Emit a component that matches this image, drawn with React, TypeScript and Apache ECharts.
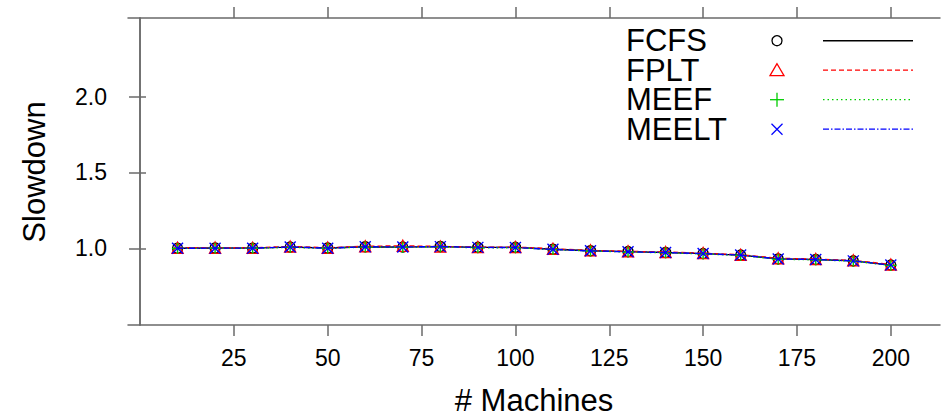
import React, { useEffect, useRef } from "react";
import * as echarts from "echarts";

const machines = [10, 20, 30, 40, 50, 60, 70, 80, 90, 100, 110, 120, 130, 140, 150, 160, 170, 180, 190, 200];
const seriesNames = ["FCFS", "FPLT", "MEEF", "MEELT"];
const fcfs = [1.0, 1.002, 1.001, 1.008, 1.002, 1.01, 1.008, 1.012, 1.006, 1.006, 0.994, 0.984, 0.978, 0.972, 0.965, 0.955, 0.93, 0.926, 0.917, 0.889];
const fplt = [1.003, 1.004, 1.003, 1.012, 1.004, 1.013, 1.016, 1.012, 1.008, 1.008, 0.997, 0.986, 0.98, 0.975, 0.968, 0.957, 0.934, 0.929, 0.92, 0.893];
const meef = [0.999, 1.0, 1.0, 1.006, 1.0, 1.008, 1.007, 1.009, 1.004, 1.004, 0.992, 0.982, 0.976, 0.97, 0.963, 0.953, 0.928, 0.924, 0.915, 0.887];
const meelt = [1.0, 1.001, 1.001, 1.009, 1.001, 1.01, 1.009, 1.011, 1.006, 1.005, 0.993, 0.983, 0.977, 0.972, 0.965, 0.955, 0.93, 0.926, 0.917, 0.889];
const xTicks = [25, 50, 75, 100, 125, 150, 175, 200];
const yTicks = [1.0, 1.5, 2.0];
const xTitle = "# Machines";
const yTitle = "Slowdown";

const FONT = "'Liberation Sans', Arial, Helvetica, sans-serif";
const AXIS_COLOR = "#6a6a6a";
const colors = ["#000000", "#ff0000", "#00cd00", "#0000ff"];
const lineTypes: any[] = ["solid", [5, 3], [1.5, 3], [6, 2, 1.5, 2]];
const symbols = [
  "circle",
  "triangle",
  "path://M5,0L5,10M0,5L10,5",
  "path://M0,0L10,10M10,0L0,10",
];

export default function App() {
  const ref = useRef<HTMLDivElement>(null);
  useEffect(() => {
    if (!ref.current) return;
    const chart = echarts.init(ref.current, undefined, { renderer: "svg" });
    const allData = [fcfs, fplt, meef, meelt];

    const xMin = -3.2;
    const xMax = 213.1;
    const yMin = 0.494;
    const yMax = 2.519;

    const baseAxisLine = { show: true, lineStyle: { color: AXIS_COLOR, width: 1.5 } };
    const tickStyle = { show: true, inside: false, length: 11, lineStyle: { color: AXIS_COLOR, width: 1.5 } };

    const series = allData.map((d, i) => ({
      name: seriesNames[i],
      type: "line",
      xAxisIndex: 0,
      yAxisIndex: 0,
      data: machines.map((m, j) => [m, d[j]]),
      symbol: symbols[i],
      symbolSize: i === 0 ? 10 : 11,
      showAllSymbol: true,
      lineStyle: { color: colors[i], width: 1.4, type: lineTypes[i] },
      itemStyle: {
        color: "rgba(0,0,0,0)",
        borderColor: colors[i],
        borderWidth: 1.4,
      },
      emphasis: { disabled: true },
      z: 2 + i,
    }));

    // legend drawn with graphic elements
    const legendRowsY = [40.7, 70.2, 99.7, 129.2];
    const legendTextX = 626;
    const legendSymX = 777;
    const legendLineX1 = 823;
    const legendLineX2 = 913;
    const legendEls: any[] = [];
    seriesNames.forEach((name, i) => {
      const y = legendRowsY[i];
      legendEls.push({
        type: "text",
        x: legendTextX,
        y,
        style: { text: name, font: `31px ${FONT}`, lineHeight: 26, fill: "#000", align: "left", verticalAlign: "middle" },
      });
      const stroke = { stroke: colors[i], lineWidth: 1.3, fill: "none" };
      if (i === 0) {
        legendEls.push({ type: "circle", shape: { cx: legendSymX, cy: y, r: 5 }, style: stroke });
      } else if (i === 1) {
        legendEls.push({
          type: "polygon",
          shape: { points: [[legendSymX, y - 6.5], [legendSymX - 7, y + 5.5], [legendSymX + 7, y + 5.5]] },
          style: stroke,
        });
      } else if (i === 2) {
        legendEls.push({ type: "line", shape: { x1: legendSymX - 7, y1: y, x2: legendSymX + 7, y2: y }, style: stroke });
        legendEls.push({ type: "line", shape: { x1: legendSymX, y1: y - 7, x2: legendSymX, y2: y + 7 }, style: stroke });
      } else {
        legendEls.push({ type: "line", shape: { x1: legendSymX - 5.5, y1: y - 5.5, x2: legendSymX + 5.5, y2: y + 5.5 }, style: stroke });
        legendEls.push({ type: "line", shape: { x1: legendSymX + 5.5, y1: y - 5.5, x2: legendSymX - 5.5, y2: y + 5.5 }, style: stroke });
      }
      legendEls.push({
        type: "line",
        shape: { x1: legendLineX1, y1: y, x2: legendLineX2, y2: y },
        style: { stroke: colors[i], lineWidth: i === 0 ? 1.5 : 1.3, lineDash: lineTypes[i] === "solid" ? null : lineTypes[i] },
      });
    });

    const option: any = {
      animation: false,
      backgroundColor: "#ffffff",
      textStyle: { fontFamily: FONT },
      grid: { left: 128, top: 18, width: 812, height: 307, containLabel: false },
      xAxis: [
        {
          type: "value",
          position: "bottom",
          min: xMin,
          max: xMax,
          axisLine: baseAxisLine,
          axisTick: { ...tickStyle, customValues: xTicks },
          axisLabel: {
            show: true,
            customValues: xTicks,
            margin: 21,
            fontSize: 23,
            color: "#000",
            fontFamily: FONT,
          },
          splitLine: { show: false },
        },
        {
          type: "value",
          position: "top",
          min: xMin,
          max: xMax,
          axisLine: baseAxisLine,
          axisTick: { ...tickStyle, customValues: xTicks },
          axisLabel: { show: false },
          splitLine: { show: false },
        },
      ],
      yAxis: [
        {
          type: "value",
          position: "left",
          min: yMin,
          max: yMax,
          axisLine: baseAxisLine,
          axisTick: { ...tickStyle, customValues: yTicks },
          axisLabel: {
            show: true,
            customValues: yTicks,
            margin: 21,
            fontSize: 23,
            color: "#000",
            fontFamily: FONT,
            formatter: (v: number) => v.toFixed(1),
          },
          splitLine: { show: false },
        },
        {
          type: "value",
          position: "right",
          min: yMin,
          max: yMax,
          axisLine: baseAxisLine,
          axisTick: { ...tickStyle, length: 6, customValues: yTicks },
          axisLabel: { show: false },
          splitLine: { show: false },
        },
      ],
      series,
      graphic: [
        {
          type: "text",
          x: 534,
          y: 400,
          style: { text: xTitle, font: `31px ${FONT}`, lineHeight: 26, fill: "#000", align: "center", verticalAlign: "middle" },
        },
        {
          type: "text",
          x: 34,
          y: 172,
          rotation: Math.PI / 2,
          style: { text: yTitle, font: `31px ${FONT}`, fill: "#000", align: "center", verticalAlign: "middle" },
        },
        ...legendEls,
      ],
    };
    chart.setOption(option);
    return () => chart.dispose();
  }, []);

  return (
    <div
      ref={ref}
      style={{ position: "fixed", left: 0, top: 0, width: 946, height: 415, background: "#fff" }}
    />
  );
}
